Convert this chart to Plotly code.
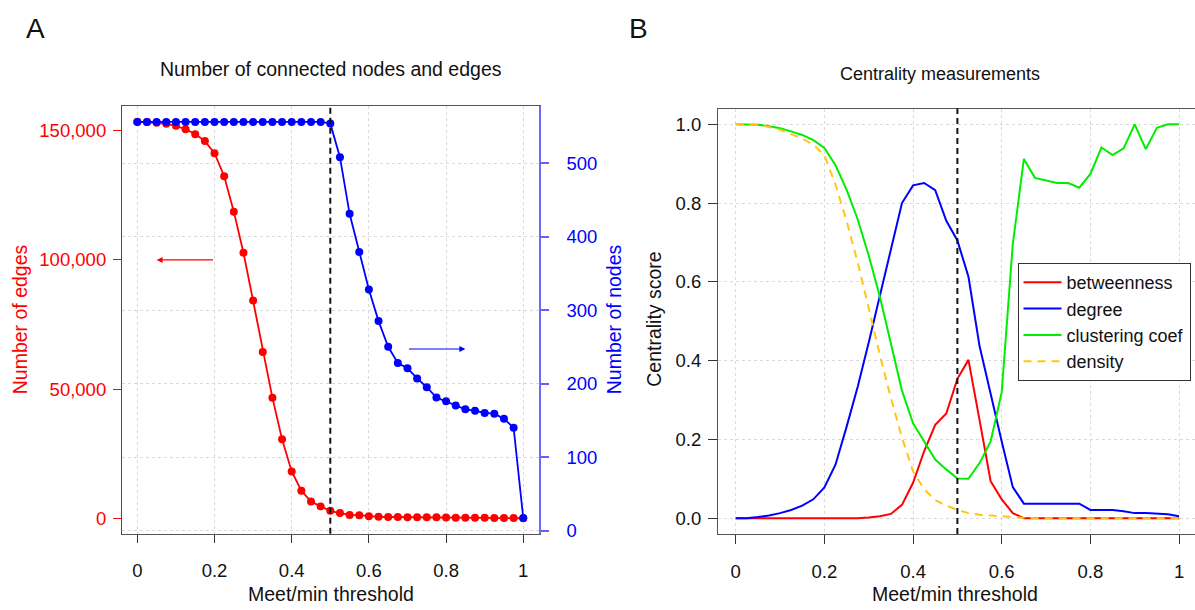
import plotly.graph_objects as go

# ---------------- data ----------------
thresholds = [0.0, 0.025, 0.05, 0.075, 0.1, 0.125, 0.15, 0.175, 0.2, 0.225,
              0.25, 0.275, 0.3, 0.325, 0.35, 0.375, 0.4, 0.425, 0.45, 0.475,
              0.5, 0.525, 0.55, 0.575, 0.6, 0.625, 0.65, 0.675, 0.7, 0.725,
              0.75, 0.775, 0.8, 0.825, 0.85, 0.875, 0.9, 0.925, 0.95, 0.975, 1.0]

num_edges = [153500, 153400, 153100, 152700, 151900, 150600, 148700, 146000, 141300, 132400,
             118700, 102800, 84300, 64400, 46700, 30600, 18100, 10700, 6500, 4600,
             2900, 2000, 1300, 1200, 800, 550, 500, 450, 420, 400,
             380, 360, 340, 200, 180, 170, 160, 150, 140, 130, 10]

num_nodes = [556, 556, 556, 556, 556, 556, 556, 556, 556, 556,
             556, 556, 556, 556, 556, 556, 556, 556, 556, 556,
             554, 508, 431, 379, 328, 285, 250, 228, 221, 207,
             195, 181, 176, 170, 165, 163, 160, 159, 152, 140, 17]

betweenness = [0, 0, 0, 0, 0, 0, 0, 0, 0, 0,
               0, 0, 0.002, 0.005, 0.011, 0.034, 0.09, 0.17, 0.237, 0.266,
               0.354, 0.402, 0.249, 0.094, 0.048, 0.013, 0, 0, 0, 0,
               0, 0, 0, 0, 0, 0, 0, 0, 0, 0, 0]

degree = [0, 0, 0.003, 0.007, 0.013, 0.021, 0.032, 0.048, 0.078, 0.136,
          0.232, 0.333, 0.446, 0.563, 0.68, 0.80, 0.845, 0.851, 0.833, 0.755,
          0.705, 0.613, 0.437, 0.312, 0.195, 0.079, 0.037, 0.037, 0.037, 0.037,
          0.037, 0.037, 0.021, 0.021, 0.021, 0.018, 0.013, 0.013, 0.011, 0.01, 0.005]

clustering = [1.0, 1.0, 0.999, 0.995, 0.99, 0.982, 0.973, 0.96, 0.94, 0.896,
              0.834, 0.759, 0.667, 0.563, 0.442, 0.324, 0.241, 0.195, 0.149, 0.124,
              0.101, 0.1, 0.14, 0.195, 0.32, 0.696, 0.912, 0.864, 0.858, 0.851,
              0.851, 0.839, 0.874, 0.941, 0.922, 0.939, 1.0, 0.937, 0.991, 1.0, 1.0]

density = [1.0, 1.0, 0.998, 0.993, 0.986, 0.976, 0.964, 0.948, 0.922, 0.847,
           0.755, 0.65, 0.529, 0.415, 0.305, 0.205, 0.119, 0.0735, 0.046, 0.032,
           0.021, 0.013, 0.009, 0.007, 0.004, 0.002, 0.001, 0, 0, 0,
           0, 0, 0, 0, 0, 0, 0, 0, 0, 0, 0]

x_ticks = [0, 0.2, 0.4, 0.6, 0.8, 1]
x_ticktext = ["0", "0.2", "0.4", "0.6", "0.8", "1"]
edge_ticks = [0, 50000, 100000, 150000]
edge_ticktext = ["0", "50,000", "100,000", "150,000"]
node_ticks = [0, 100, 200, 300, 400, 500]
score_ticks = [0, 0.2, 0.4, 0.6, 0.8, 1.0]
score_ticktext = ["0.0", "0.2", "0.4", "0.6", "0.8", "1.0"]
cutoff = 0.5

# ---------------- layout helpers ----------------
W, H = 1195, 610
FONT = "Liberation Sans, Arial, sans-serif"


def px(xp):
    return xp / W


def py(yp):
    return 1 - yp / H


RED = "#FF0000"
BLUE = "#0000FF"
GREEN = "#00EE00"
GOLD = "#FFC619"
GRID = "#DADADA"
BOX = "#555555"

fig = go.Figure()

# ---- panel A ----
fig.add_trace(go.Scatter(x=thresholds, y=num_edges, mode="lines+markers",
                         line=dict(color=RED, width=1.8),
                         marker=dict(color=RED, size=8),
                         xaxis="x", yaxis="y", showlegend=False))
fig.add_trace(go.Scatter(x=thresholds, y=num_nodes, mode="lines+markers",
                         line=dict(color=BLUE, width=1.8),
                         marker=dict(color=BLUE, size=8),
                         xaxis="x", yaxis="y2", showlegend=False))

# ---- panel B ----
fig.add_trace(go.Scatter(x=thresholds, y=betweenness, mode="lines", name="betweenness",
                         line=dict(color=RED, width=2), xaxis="x2", yaxis="y3"))
fig.add_trace(go.Scatter(x=thresholds, y=degree, mode="lines", name="degree",
                         line=dict(color=BLUE, width=2), xaxis="x2", yaxis="y3"))
fig.add_trace(go.Scatter(x=thresholds, y=clustering, mode="lines", name="clustering coef",
                         line=dict(color=GREEN, width=2), xaxis="x2", yaxis="y3"))
fig.add_trace(go.Scatter(x=thresholds, y=density, mode="lines", name="density",
                         line=dict(color=GOLD, width=2, dash="8px,6px"), xaxis="x2", yaxis="y3"))

tickfont = dict(family=FONT, size=18.5, color="#111111")

# panel geometry (pixels)
A_left, A_right, A_top, A_bot = 121.9, 538.7, 107.3, 540.0
B_left, B_top, B_bot = 718.0, 109.8, 540.2

fig.update_layout(
    width=W, height=H,
    margin=dict(l=0, r=0, t=0, b=0),
    paper_bgcolor="white", plot_bgcolor="white",
    font=dict(family=FONT, size=18, color="#111111"),
    xaxis=dict(domain=[px(A_left), px(A_right)], range=[-0.04, 1.04], anchor="y",
               tickvals=x_ticks, ticktext=x_ticktext, tickfont=tickfont,
               ticks="outside", ticklen=8, tickcolor="#333333", tickwidth=1,
               ticklabelstandoff=12,
               showline=True, linecolor=BOX, linewidth=1, mirror=True,
               showgrid=True, gridcolor=GRID, griddash="dot", gridwidth=1,
               zeroline=False),
    yaxis=dict(domain=[py(A_bot), py(A_top)], range=[-6008, 159566], anchor="x",
               tickvals=edge_ticks, ticktext=edge_ticktext,
               tickfont=dict(family=FONT, size=18.5, color=RED),
               ticks="outside", ticklen=8, tickcolor=RED, tickwidth=1,
               ticklabelstandoff=3,
               showline=True, linecolor=RED, linewidth=1,
               showgrid=False, zeroline=False),
    yaxis2=dict(overlaying="y", side="right", anchor="x", range=[-4.44, 577.6],
                tickvals=node_ticks, tickfont=dict(family=FONT, size=18.5, color=BLUE),
                ticks="outside", ticklen=8, tickcolor="#6060FF", tickwidth=2,
                ticklabelstandoff=14,
                showline=True, linecolor="#6A6AFF", linewidth=2,
                showgrid=True, gridcolor=GRID, griddash="dot", gridwidth=1,
                zeroline=False),
    xaxis2=dict(domain=[px(B_left), 1.0], range=[-0.04, 1.036], anchor="y3",
                tickvals=x_ticks, ticktext=x_ticktext, tickfont=tickfont,
                ticks="outside", ticklen=9, tickcolor="#333333", tickwidth=1,
                ticklabelstandoff=12,
                showline=True, linecolor=BOX, linewidth=1, mirror=True,
                showgrid=True, gridcolor=GRID, griddash="dot", gridwidth=1,
                zeroline=False),
    yaxis3=dict(domain=[py(B_bot), py(B_top)], range=[-0.04, 1.04], anchor="x2",
                tickvals=score_ticks, ticktext=score_ticktext, tickfont=tickfont,
                ticks="outside", ticklen=9, tickcolor="#333333", tickwidth=1,
                ticklabelstandoff=3,
                showline=True, linecolor=BOX, linewidth=1,
                showgrid=True, gridcolor=GRID, griddash="dot", gridwidth=1,
                zeroline=False),
    legend=dict(x=px(1017.5), y=py(266), xanchor="left", yanchor="top",
                bgcolor="white", bordercolor="#333333", borderwidth=1,
                font=dict(family=FONT, size=18, color="#111111"),
                tracegroupgap=0, itemwidth=38),
    showlegend=True,
)

# vertical cut-off lines
for xr, yr in (("x", "y domain"), ("x2", "y3 domain")):
    fig.add_shape(type="line", xref=xr, yref=yr, x0=cutoff, x1=cutoff, y0=0, y1=1,
                  line=dict(color="#111111", width=2, dash="6px,4px"))

# arrows in panel A
fig.add_annotation(x=0.05, y=100000, ax=0.2, ay=100000, xref="x", yref="y",
                   axref="x", ayref="y", showarrow=True, text="",
                   arrowcolor=RED, arrowwidth=1.2, arrowhead=2, arrowsize=1)
fig.add_annotation(x=0.85, y=247, ax=0.7, ay=247, xref="x", yref="y2",
                   axref="x", ayref="y2", showarrow=True, text="",
                   arrowcolor=BLUE, arrowwidth=1.2, arrowhead=2, arrowsize=1)


def label(text, x, y, size=19.5, color="#111111", angle=0):
    fig.add_annotation(x=px(x), y=py(y), xref="paper", yref="paper", text=text,
                       showarrow=False, textangle=angle, xanchor="center", yanchor="middle",
                       font=dict(family=FONT, size=size, color=color))


label("A", 35, 29, size=28)
label("B", 638, 29, size=28)
label("Number of connected nodes and edges", 330.5, 70)
label("Centrality measurements", 940, 75, size=18)
label("Meet/min threshold", 330.5, 601)
label("Meet/min threshold", 955, 601)
label("Number of edges", 20, 323, color=RED, angle=-90)
label("Number of nodes", 614, 323, color=BLUE, angle=-90)
label("Centrality score", 654.5, 323, angle=-90)

fig.write_html("out.html", config={"displayModeBar": False},
               post_script="document.body.style.margin='0';document.body.style.overflow='hidden';")
